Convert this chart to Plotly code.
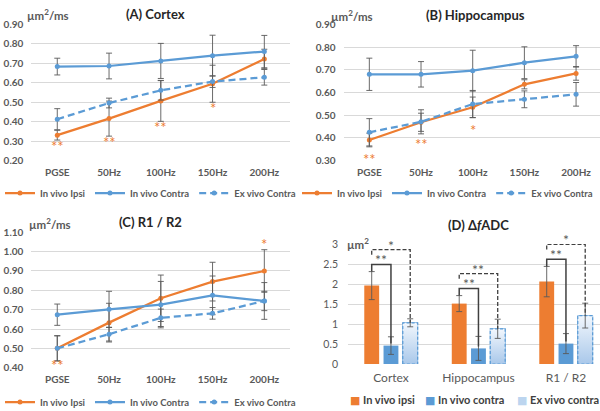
import plotly.graph_objects as go

# ---------------- data ----------------
freqs = ["PGSE", "50Hz", "100Hz", "150Hz", "200Hz"]
series_names = ["In vivo Ipsi", "In vivo Contra", "Ex vivo Contra"]

# (A) Cortex
ctx_ipsi = [0.331, 0.416, 0.507, 0.595, 0.722]
ctx_ipsi_err = [0.025, 0.09, 0.105, 0.095, 0.05]
ctx_contra = [0.683, 0.686, 0.712, 0.739, 0.760]
ctx_contra_err = [0.043, 0.066, 0.09, 0.105, 0.083]
ctx_ex = [0.413, 0.496, 0.561, 0.606, 0.628]
ctx_ex_err = [0.054, 0.025, 0.05, 0.03, 0.04]
ctx_sig = ["**", "**", "**", "*", ""]
ctx_sig_side = ["below", "below", "below", "below", ""]

# (B) Hippocampus
hip_ipsi = [0.391, 0.469, 0.535, 0.636, 0.684]
hip_ipsi_err = [0.03, 0.04, 0.045, 0.02, 0.03]
hip_contra = [0.680, 0.680, 0.696, 0.731, 0.759]
hip_contra_err = [0.071, 0.056, 0.09, 0.07, 0.047]
hip_ex = [0.425, 0.471, 0.549, 0.570, 0.592]
hip_ex_err = [0.06, 0.053, 0.06, 0.037, 0.052]
hip_sig = ["**", "**", "*", "", ""]
hip_sig_side = ["below", "below", "below", "", ""]

# (C) R1 / R2
r12_ipsi = [0.500, 0.633, 0.759, 0.845, 0.900]
r12_ipsi_err = [0.065, 0.10, 0.12, 0.10, 0.11]
r12_contra = [0.674, 0.702, 0.726, 0.774, 0.745]
r12_contra_err = [0.055, 0.093, 0.12, 0.10, 0.095]
r12_ex = [0.500, 0.573, 0.658, 0.681, 0.745]
r12_ex_err = [0.065, 0.035, 0.045, 0.03, 0.05]
r12_sig = ["**", "", "", "", "*"]
r12_sig_side = ["below", "", "", "", "above"]

# (D) delta fADC
regions = ["Cortex", "Hippocampus", "R1 / R2"]
bar_names = ["In vivo ipsi", "In vivo contra", "Ex vivo contra"]
dfadc_ipsi = [1.96, 1.51, 2.06]
dfadc_ipsi_err = [0.35, 0.20, 0.38]
dfadc_contra = [0.46, 0.39, 0.51]
dfadc_contra_err = [0.22, 0.30, 0.25]
dfadc_ex = [1.03, 0.88, 1.21]
dfadc_ex_err = [0.10, 0.24, 0.31]
sig_ipsi_vs_contra = ["**", "**", "**"]
sig_ipsi_vs_ex = ["*", "**", "*"]

# ---------------- style ----------------
W, H = 600, 411
ORANGE = "#ED7D31"
BLUE = "#5B9BD5"
GRID = "#D9D9D9"
TXT = "#595959"
ERR = "#595959"
FONT = "Lato"
STAR_LIFT = 3.5  # asterisk glyph sits this many px above the text middle


def px(x):
    return x / W


def py(y):
    return 1 - y / H


fig = go.Figure()

# (xaxis, yaxis, legend, data..., star gap below / above the error bar in px)
line_panels = [
    ("x", "y", "legend", ctx_ipsi, ctx_ipsi_err, ctx_contra, ctx_contra_err, ctx_ex, ctx_ex_err, ctx_sig, ctx_sig_side, 2, 9),
    ("x2", "y2", "legend2", hip_ipsi, hip_ipsi_err, hip_contra, hip_contra_err, hip_ex, hip_ex_err, hip_sig, hip_sig_side, 9, 9),
    ("x3", "y3", "legend3", r12_ipsi, r12_ipsi_err, r12_contra, r12_contra_err, r12_ex, r12_ex_err, r12_sig, r12_sig_side, 1, 9),
]

annotations = []

for xa, ya, leg, ip, ip_e, co, co_e, ex, ex_e, sig, side, gap_b, gap_a in line_panels:
    specs = [
        (series_names[0], ip, ip_e, ORANGE, "solid"),
        (series_names[1], co, co_e, BLUE, "solid"),
        (series_names[2], ex, ex_e, BLUE, "7px,4px"),
    ]
    for name, vals, errs, col, dash in specs:
        fig.add_trace(go.Scatter(
            x=freqs, y=vals, name=name, mode="lines+markers",
            line=dict(color=col, width=2.25, dash=dash),
            marker=dict(color=col, size=5, symbol="circle"),
            error_y=dict(type="data", array=errs, color=ERR, thickness=0.9, width=3),
            xaxis=xa, yaxis=ya, legend=leg, hoverinfo="skip",
        ))
    for i, s in enumerate(sig):
        if not s:
            continue
        if side[i] == "below":
            annotations.append(dict(
                x=i, y=ip[i] - ip_e[i], xref=xa, yref=ya, text=s, showarrow=False,
                yanchor="middle", yshift=-gap_b - STAR_LIFT,
                font=dict(family=FONT, size=15, color=ORANGE)))
        else:
            annotations.append(dict(
                x=i, y=ip[i] + ip_e[i], xref=xa, yref=ya, text=s, showarrow=False,
                yanchor="middle", yshift=gap_a - STAR_LIFT,
                font=dict(family=FONT, size=15, color=ORANGE)))

# ---------------- (D) bars ----------------
BAR_W = 0.17
OFFS = [-0.22, 0.0, 0.22]
idx = list(range(len(regions)))
xs = [[i + o for i in idx] for o in OFFS]

fig.add_trace(go.Bar(
    x=xs[0], y=dfadc_ipsi, width=BAR_W, name=bar_names[0],
    marker=dict(color=ORANGE, line=dict(width=0)),
    error_y=dict(type="data", array=dfadc_ipsi_err, color=ERR, thickness=0.9, width=3),
    xaxis="x4", yaxis="y4", showlegend=False, hoverinfo="skip"))
fig.add_trace(go.Bar(
    x=xs[1], y=dfadc_contra, width=BAR_W, name=bar_names[1],
    marker=dict(color=BLUE, line=dict(width=0)),
    error_y=dict(type="data", array=dfadc_contra_err, color=ERR, thickness=0.9, width=3),
    xaxis="x4", yaxis="y4", showlegend=False, hoverinfo="skip"))
fig.add_trace(go.Bar(
    x=xs[2], y=dfadc_ex, width=BAR_W, name=bar_names[2],
    marker=dict(color="#D3E3F4", line=dict(color=BLUE, width=1)),
    xaxis="x4", yaxis="y4", showlegend=False, hoverinfo="skip"))

# gradient + dashed outline overlay for the ex vivo bars
for xc, v in zip(xs[2], dfadc_ex):
    x0, x1 = xc - BAR_W / 2, xc + BAR_W / 2
    fig.add_trace(go.Scatter(
        x=[x0, x0, x1, x1, x0], y=[0, v, v, 0, 0], mode="lines", fill="toself",
        fillgradient=dict(type="vertical", colorscale=[[0, "#A9C8EA"], [1, "#F2F7FD"]]),
        line=dict(color=BLUE, width=1.2, dash="3px,2px"),
        xaxis="x4", yaxis="y4", showlegend=False, hoverinfo="skip"))

fig.add_trace(go.Scatter(
    x=xs[2], y=dfadc_ex, mode="markers", marker=dict(color="rgba(0,0,0,0)", size=1),
    error_y=dict(type="data", array=dfadc_ex_err, color=ERR, thickness=0.9, width=3),
    xaxis="x4", yaxis="y4", showlegend=False, hoverinfo="skip"))

# significance brackets
for i in idx:
    top = dfadc_ipsi[i] + dfadc_ipsi_err[i]
    h_solid = top + 0.18
    h_dash = top + 0.55
    fig.add_trace(go.Scatter(
        x=[xs[0][i], xs[0][i], xs[1][i], xs[1][i]],
        y=[top, h_solid, h_solid, dfadc_contra[i] + 0.05],
        mode="lines", line=dict(color="#404040", width=1.5),
        xaxis="x4", yaxis="y4", showlegend=False, hoverinfo="skip"))
    fig.add_trace(go.Scatter(
        x=[xs[0][i], xs[0][i], xs[2][i], xs[2][i]],
        y=[h_dash - 0.13, h_dash, h_dash, dfadc_ex[i]],
        mode="lines", line=dict(color="#404040", width=1.3, dash="4px,2px"),
        xaxis="x4", yaxis="y4", showlegend=False, hoverinfo="skip"))
    annotations.append(dict(
        x=(xs[0][i] + xs[1][i]) / 2, y=h_solid, xref="x4", yref="y4",
        text=sig_ipsi_vs_contra[i], showarrow=False, yanchor="bottom", yshift=-6,
        font=dict(family=FONT, size=14, color="#595959")))
    annotations.append(dict(
        x=(xs[0][i] + xs[2][i]) / 2, y=h_dash, xref="x4", yref="y4",
        text=sig_ipsi_vs_ex[i], showarrow=False, yanchor="bottom", yshift=-6,
        font=dict(family=FONT, size=14, color="#595959")))

# legend of (D) drawn as text entries
d_leg_colors = [ORANGE, BLUE, "#BCD5EF"]
for name, col, lx in zip(bar_names, d_leg_colors, [348, 423, 515]):
    annotations.append(dict(
        x=px(lx), y=py(400), xref="paper", yref="paper", showarrow=False,
        xanchor="left", yanchor="middle",
        text=f"<span style='color:{col};font-family:DejaVu Sans'>■</span> {name}",
        font=dict(family=FONT, size=11, color="#404040", weight="bold")))

# ---------------- titles / unit labels ----------------
title_font = dict(family=FONT, size=13, color="#262626", weight="bold")
unit_font = dict(family=FONT, size=11.5, color=TXT, weight="bold")
for text, cx, cy in [("(A) Cortex", 155, 14), ("(B) Hippocampus", 475, 15),
                     ("(C) R1 / R2", 150, 222), ("(D) Δ<i>f</i>ADC", 478, 225)]:
    annotations.append(dict(x=px(cx), y=py(cy), xref="paper", yref="paper", text=text,
                            showarrow=False, xanchor="center", yanchor="middle", font=title_font))
for text, lx, cy in [("µm<sup>2</sup>/ms", 25, 15), ("µm<sup>2</sup>/ms", 329, 16),
                     ("µm<sup>2</sup>/ms", 27, 223), ("µm<sup>2</sup>", 345, 243)]:
    annotations.append(dict(x=px(lx), y=py(cy), xref="paper", yref="paper", text=text,
                            showarrow=False, xanchor="left", yanchor="middle", font=unit_font))

# ---------------- axes ----------------
tick_font = dict(family=FONT, size=10, color=TXT, weight="bold")


def xcat(dom, rng, anchor):
    return dict(domain=dom, type="category", categoryorder="array", categoryarray=freqs,
                range=rng, showgrid=False, showline=False, zeroline=False, ticks="",
                tickfont=tick_font, ticklabelstandoff=4, anchor=anchor,
                automargin=False, fixedrange=True)


def yval(dom, rng, anchor):
    return dict(domain=dom, range=rng, dtick=0.1, tickformat=".2f", showgrid=True,
                gridcolor=GRID, gridwidth=1, zeroline=False, showline=False, ticks="",
                tickfont=tick_font, ticklabelstandoff=7, anchor=anchor,
                automargin=False, fixedrange=True)


legend_font = dict(family=FONT, size=9.5, color=TXT, weight="bold")


def leg(x, y, anchor):
    return dict(orientation="h", x=x, y=py(y), xanchor=anchor, yanchor="middle",
                font=legend_font, itemwidth=30, bgcolor="rgba(0,0,0,0)", tracegroupgap=0)


fig.update_layout(
    width=W, height=H, margin=dict(l=0, r=0, t=0, b=0, autoexpand=False),
    paper_bgcolor="white", plot_bgcolor="white", barmode="overlay",
    font=dict(family=FONT, color=TXT),
    xaxis=xcat([px(31.4), px(290.2)], [-0.5, 4.5], "y"),
    yaxis=yval([py(160.7), py(24.3)], [0.2, 0.9], "x"),
    xaxis2=xcat([px(343.5), 1.0], [-0.5, 4.463], "y2"),
    yaxis2=yval([py(160.7), py(24.3)], [0.3, 0.9], "x2"),
    xaxis3=xcat([px(31.4), px(290.2)], [-0.5, 4.5], "y3"),
    yaxis3=yval([py(367.7), py(232.3)], [0.4, 1.1], "x3"),
    xaxis4=dict(domain=[px(348), 1.0], range=[-0.491, 2.389], tickvals=idx, ticktext=regions,
                showgrid=False, zeroline=False, showline=False, ticks="",
                tickfont=dict(family=FONT, size=12, color=TXT), ticklabelstandoff=5,
                anchor="y4", automargin=False, fixedrange=True),
    yaxis4=dict(domain=[py(364), py(244)], range=[0, 3], dtick=0.5, showgrid=True,
                gridcolor=GRID, zeroline=False, showline=False, ticks="",
                tickfont=dict(family=FONT, size=10.5, color=TXT), ticklabelstandoff=9,
                anchor="x4", automargin=False, fixedrange=True),
    legend=leg(0.0, 193, "left"),
    legend2=leg(px(598), 193, "right"),
    legend3=leg(0.0, 402, "left"),
    annotations=annotations,
    showlegend=True,
)

fig.write_html("out.html", post_script="document.body.style.margin='0';",
               config={"displayModeBar": False})
